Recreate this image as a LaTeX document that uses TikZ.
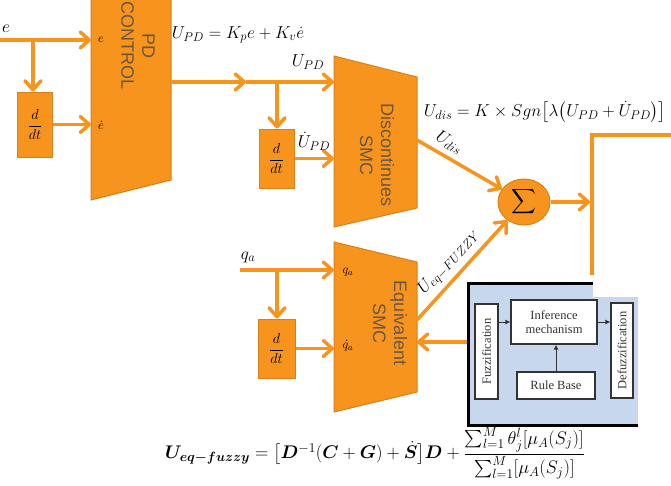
\RequirePackage{fix-cm}
\documentclass[tikz,border=0pt]{standalone}
\usepackage{amsmath,bm}
\usepackage{fontspec}
\newfontfamily\sansf{Liberation Sans}
\newfontfamily\serf{Liberation Serif}
\usetikzlibrary{arrows.meta,shapes.geometric}
\DeclareMathSizes{17.28}{17.28}{12.6}{10}
\DeclareMathSizes{18.3}{18.3}{13.4}{10.5}
\definecolor{org}{HTML}{F7941D}
\definecolor{orgd}{HTML}{D9801A}
\definecolor{txtc}{HTML}{6B5640}
\definecolor{fblue}{HTML}{C6D7EE}
\definecolor{fzt}{HTML}{333333}
\tikzset{
  wire/.style={draw=org, line width=3.5pt},
  arr/.style={wire, -{Straight Barb[round,length=9pt,width=16pt]}},
  trap/.style={fill=org, draw=orgd, line width=1pt},
  dbox/.style={fill=org, draw=orgd, line width=1pt, minimum width=35pt, inner sep=0pt, font=\fontsize{14.4}{16}\selectfont},
  blocktxt/.style={rotate=-90, align=center, text=txtc, font=\sansf\fontsize{18}{21}\selectfont},
  lab/.style={inner sep=0pt, font=\fontsize{17.28}{20}\selectfont},
  slab/.style={inner sep=0pt, font=\fontsize{12.5}{15}\selectfont},
  fbox/.style={fill=white, draw=fzt, line width=1.2pt, inner sep=0pt, text=fzt, font=\serf\fontsize{12.5}{13.5}\selectfont, align=center},
  farr/.style={draw=fzt, line width=1pt, -{Latex[length=5pt,width=5pt]}}
}
\begin{document}
\begin{tikzpicture}[x=1pt,y=-1pt]
\useasboundingbox (0,0) rectangle (671,485);
\clip (0,0) rectangle (671,485);

% right (cut-off) block
\fill[white] (592,135) rectangle (680,280);
\draw[draw=org, line width=4pt] (592,275) -- (592,135) -- (680,135);

% PD control block
\draw[trap] (91,-10) -- (91,200) -- (171,180) -- (171,-10);
\node[blocktxt] (pdtxt) at (138,46) {PD\\CONTROL};
\node[slab] (pde) at (101,40) {$e$};
\node[slab] (pded) at (101,125) {$\dot e$};

% Discontinues SMC
\draw[trap] (334,56) -- (334,227) -- (417,208) -- (417,77) -- cycle;
\node[blocktxt] (dstxt) at (377,155) {Discontinues\\SMC};

% Equivalent SMC
\draw[trap] (334,242) -- (334,412) -- (417,392) -- (417,262) -- cycle;
\node[blocktxt] (estxt) at (390,323) {Equivalent\\SMC};
\node[slab] (esq) at (348,272) {$q_a$};
\node[slab] (esqd) at (348,346) {$\dot q_a$};

% d/dt blocks
\node[dbox, minimum height=65pt] (d1) at (35,124.5) {$\dfrac{d}{dt}$};
\node[dbox, minimum height=59pt] (d2) at (276.5,158.5) {$\dfrac{d}{dt}$};
\node[dbox, minimum height=59pt, minimum width=37pt] (d3) at (276.5,348.5) {$\dfrac{d}{dt}$};

% sum
\node[ellipse, fill=org, draw=orgd, line width=1pt, minimum width=52pt, minimum height=46pt, inner sep=0pt] (sum) at (524,202) {\fontsize{17.28}{20}\selectfont$\displaystyle\sum$};

% coordinates
\coordinate (ein) at (0,40);
\coordinate (eb) at (33,40);
\coordinate (pdin1) at (91,40);
\coordinate (pdin2) at (91,125);
\coordinate (pdout) at (171,82);
\coordinate (m1) at (246,82);
\coordinate (b2) at (277,82);
\coordinate (dsin1) at (334,82);
\coordinate (dsout) at (417,140);
\coordinate (qin) at (240,270);
\coordinate (qb) at (277,270);
\coordinate (esin1) at (334,270);
\coordinate (esout) at (417,320);
\coordinate (esin3) at (417,342);
\coordinate (fzl) at (468,342);
\coordinate (cont) at (590,202);

% wires
\draw[wire] (ein) -- (eb);
\draw[arr] (eb) -- (pdin1);
\draw[arr] (eb) -- (eb |- d1.north);
\draw[arr] (d1.east) -- (d1.east -| pdin2);

\draw[arr] (pdout) -- (m1);
\draw[arr] (m1) -- (dsin1);
\draw[arr] (b2) -- (b2 |- d2.north);
\draw[arr] (d2.east) -- (d2.east -| dsin1);

\draw[arr] (qin) -- (esin1);
\draw[arr] (qb) -- (qb |- d3.north);
\draw[arr] (d3.east) -- (d3.east -| esin1);

\draw[arr] (dsout) -- (sum) node[lab, pos=0.3, sloped, above=5pt] (udis) {$U_{dis}$};
\draw[arr] (esout) -- (sum) node[lab, pos=0.48, sloped, above=5pt] (ueq) {$U_{eq-FUZZY}$};
\draw[arr] (sum) -- (cont);
\draw[arr] (fzl) -- (esin3);

% labels
\node[lab] (elab) at (6,29) {$e$};
\node[lab] (upd) at (238,35) {$U_{PD}=K_pe+K_v\dot e$};
\node[lab] (upd2) at (308,62) {$U_{PD}$};
\node[lab] (upd3) at (314,141) {$\dot U_{PD}$};
\node[lab] (udisf) at (545,112) {$U_{dis}=K\times Sgn\bigl[\lambda\bigl(U_{PD}+\dot U_{PD}\bigr)\bigr]$};
\node[lab] (qa) at (248,257) {$q_a$};

% fuzzy block
\fill[fblue] (468,283) rectangle (593,425);
\fill[fblue] (593,297) rectangle (638,425);
\draw[black, line width=3pt] (593,283) -- (468,283) -- (468,425) -- (638,425);
\node[fbox, minimum width=23pt, minimum height=95pt] (fz) at (486.5,351.5) {\rotatebox{90}{Fuzzification}};
\node[fbox, minimum width=86pt, minimum height=44pt] (inf) at (554,322) {Inference\\mechanism};
\node[fbox, minimum width=78pt, minimum height=27pt] (rb) at (556,385.5) {Rule Base};
\node[fbox, minimum width=22pt, minimum height=95pt] (dfz) at (622,350.5) {\rotatebox{90}{Defuzzification}};
\draw[farr] (fz.east |- inf.west) -- (inf.west);
\draw[farr] (inf.east) -- (inf.east -| dfz.west);
\draw[farr] (rb.north) -- (rb.north |- inf.south);

% bottom formula
\node[inner sep=0pt, font=\fontsize{18.3}{21}\selectfont] (feq) at (375,453) {$\bm{U_{eq-fuzzy}}=\bigl[\bm{D}^{-1}(\bm{C}+\bm{G})+\dot{\bm{S}}\bigr]\bm{D}+\dfrac{\sum_{l=1}^{M}\theta_j^l[\mu_A(S_j)]}{\sum_{l=1}^{M}[\mu_A(S_j)]}$};
\end{tikzpicture}
\end{document}
